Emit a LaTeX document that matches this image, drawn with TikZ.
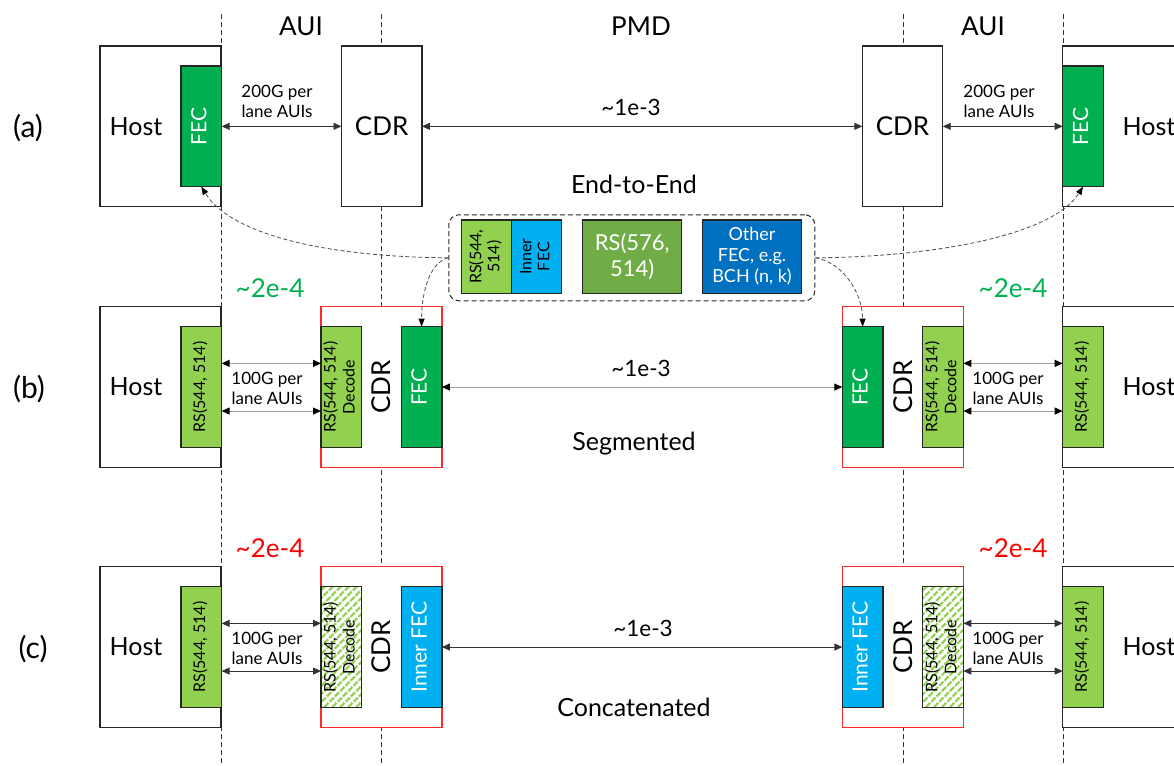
\documentclass[tikz,border=0pt]{standalone}
\usepackage{fontspec}
\setmainfont{Lato}
\usepackage{graphicx}
\usetikzlibrary{arrows.meta,calc}
\definecolor{fecg}{HTML}{00B050}
\definecolor{lgr}{HTML}{92D050}
\definecolor{cya}{HTML}{00B0F0}
\definecolor{mgr}{HTML}{70AD47}
\definecolor{blu}{HTML}{0070C0}
\definecolor{rdd}{HTML}{FF2A2A}
\newcommand\vtxt[1]{\rotatebox{90}{\begin{tabular}{@{}c@{}}#1\end{tabular}}}
\tikzset{
 blk/.style={draw=black!85, line width=1.2pt, inner sep=0pt, outer sep=0pt, anchor=north west},
 hostbox/.style={blk, fill=white, minimum width=121pt, minimum height=160.7pt},
 cdrbox/.style={blk, fill=white, minimum width=80.4pt, minimum height=160.7pt, font=\fontsize{26}{30}\selectfont},
 redbox/.style={draw=rdd, line width=1.2pt, fill=white, inner sep=0pt, outer sep=0pt, anchor=north west, minimum width=121pt, minimum height=160.7pt},
 narrow/.style={blk, minimum width=40.6pt, minimum height=120.7pt},
 fecbox/.style={narrow, fill=fecg, text=white, font=\fontsize{21}{25}\selectfont},
 innerbox/.style={narrow, fill=cya, text=white, font=\fontsize{21}{25}\selectfont},
 rsbox/.style={narrow, fill=lgr, font=\fontsize{16}{19}\selectfont},
 decbox/.style={narrow, font=\fontsize{16}{19}\selectfont},
 lgbox/.style={blk, minimum height=73.3pt},
 arr/.style={line width=0.9pt, draw=black!80, {Triangle[length=8pt,width=7pt]}-{Triangle[length=8pt,width=7pt]}},
 garr/.style={line width=1.1pt, draw=black!38, {Triangle[length=8pt,width=7pt,color=black]}-{Triangle[length=8pt,width=7pt,color=black]}},
 vdash/.style={draw=black!80, line width=0.8pt, dash pattern=on 5pt off 3pt},
 cdash/.style={draw=black!70, line width=0.8pt, dash pattern=on 4pt off 2.5pt, -{Triangle[length=8pt,width=6pt,color=black]}},
 hatch/.style={draw=lgr, line width=2.2pt, dash pattern=on 6pt off 1.5pt},
 lbl/.style={font=\fontsize{17}{20}\selectfont, align=center},
 big/.style={font=\fontsize{25}{29}\selectfont},
 cdrt/.style={font=\fontsize{26}{30}\selectfont},
 hdr/.style={font=\fontsize{26}{30}\selectfont},
 ber/.style={font=\fontsize{22.5}{26}\selectfont},
 ber2/.style={font=\fontsize{26}{30}\selectfont},
 title/.style={font=\fontsize{25}{29}\selectfont},
 rowlbl/.style={font=\fontsize{30}{34}\selectfont},
}
\begin{document}
\begin{tikzpicture}[x=1pt,y=-1pt]
\useasboundingbox (0,0) rectangle (1174,765);
\clip (0,0) rectangle (1174,765);
% dashed column separators
\foreach \n/\x in {va/221.3, vb/381.5, vc/903, vd/1063}{
  \coordinate (\n t) at (\x,14);
  \coordinate (\n b) at (\x,765);
  \draw[vdash] (\n t) -- (\n b);
}
% headers
\node[hdr] (h1) at (301,26) {AUI};
\node[hdr] (h2) at (641,26) {PMD};
\node[hdr] (h3) at (983,26) {AUI};
% row labels
\node[rowlbl] (ra) at (28,128) {(a)};
\node[rowlbl] (rb) at (29,389) {(b)};
\node[rowlbl] (rc) at (33,649) {(c)};

% ---------------- row (a)
\node[hostbox] (hostA1) at (100,46) {};
\node[big] (hostA1t) at (136,127) {Host};
\node[fecbox] (fecA1) at (181,66) {\vtxt{FEC}};
\node[cdrbox] (cdrA1) at (341.5,46) {CDR};
\node[cdrbox] (cdrA2) at (862.3,46) {CDR};
\node[hostbox] (hostA2) at (1062.7,46) {};
\node[big] (hostA2t) at (1149,127) {Host};
\node[fecbox] (fecA2) at (1062.7,66) {\vtxt{FEC}};
\draw[arr] (fecA1.east) -- (cdrA1.west);
\draw[arr] (cdrA1.east) -- (cdrA2.west);
\draw[arr] (cdrA2.east) -- (fecA2.west);
\node[lbl] (la1) at (277,101) {200G per\\lane AUIs};
\node[lbl] (la2) at (999,101) {200G per\\lane AUIs};
\node[ber] (bera) at (631,107) {\textasciitilde1e-3};
\node[title] (ta) at (634,184) {End-to-End};

% ---------------- row (b)
\node[hostbox] (hostB1) at (100,306.7) {};
\node[big] (hostB1t) at (136,387) {Host};
\node[rsbox] (rsB1) at (181,326.7) {\vtxt{RS(544, 514)}};
\node[redbox] (cdrB1) at (321,306.7) {};
\node[rsbox] (decB1) at (321,326.7) {\vtxt{RS(544, 514)\\Decode}};
\node[fecbox] (fecB1) at (401.3,326.7) {\vtxt{FEC}};
\node[cdrt] (cdrB1t) at (381.5,387) {\rotatebox{90}{CDR}};
\node[redbox] (cdrB2) at (842.3,306.7) {};
\node[fecbox] (fecB2) at (842.3,326.7) {\vtxt{FEC}};
\node[rsbox] (decB2) at (922.7,326.7) {\vtxt{RS(544, 514)\\Decode}};
\node[cdrt] (cdrB2t) at (903,387) {\rotatebox{90}{CDR}};
\node[hostbox] (hostB2) at (1062.7,306.7) {};
\node[big] (hostB2t) at (1149,387) {Host};
\node[rsbox] (rsB2) at (1062.7,326.7) {\vtxt{RS(544, 514)}};
\draw[garr] ([yshift=23.7pt]rsB1.east) -- ([yshift=23.7pt]decB1.west);
\draw[garr] ([yshift=-24pt]rsB1.east) -- ([yshift=-24pt]decB1.west);
\draw[garr] ([yshift=23.7pt]decB2.east) -- ([yshift=23.7pt]rsB2.west);
\draw[garr] ([yshift=-24pt]decB2.east) -- ([yshift=-24pt]rsB2.west);
\draw[garr] (fecB1.east) -- (fecB2.west);
\node[lbl] (lb1) at (267,388) {100G per\\lane AUIs};
\node[lbl] (lb2) at (1008,388) {100G per\\lane AUIs};
\node[ber] (berb) at (641,368) {\textasciitilde1e-3};
\node[title] (tb) at (634,444) {Segmented};
\node[ber2, text=fecg] (gb1) at (270,288) {\textasciitilde2e-4};
\node[ber2, text=fecg] (gb2) at (1013,288) {\textasciitilde2e-4};

% ---------------- row (c)
\node[hostbox] (hostC1) at (100,566.7) {};
\node[big] (hostC1t) at (136,647) {Host};
\node[rsbox] (rsC1) at (181,586.7) {\vtxt{RS(544, 514)}};
\node[redbox] (cdrC1) at (321,566.7) {};
\node[decbox, fill=white] (hC1) at (321,586.7) {};
\begin{scope}
 \clip (hC1.south west) rectangle (hC1.north east);
 \foreach \i in {-130,-122,...,50} \draw[hatch] ($(hC1.south west)+(\i,5)$) -- ++(140,-140);
\end{scope}
\node[decbox] (decC1) at (321,586.7) {\vtxt{RS(544, 514)\\Decode}};
\node[innerbox] (fecC1) at (401.3,586.7) {\vtxt{Inner FEC}};
\node[cdrt] (cdrC1t) at (381.5,647) {\rotatebox{90}{CDR}};
\node[redbox] (cdrC2) at (842.3,566.7) {};
\node[innerbox] (fecC2) at (842.3,586.7) {\vtxt{Inner FEC}};
\node[decbox, fill=white] (hC2) at (922.7,586.7) {};
\begin{scope}
 \clip (hC2.south west) rectangle (hC2.north east);
 \foreach \i in {-130,-122,...,50} \draw[hatch] ($(hC2.south west)+(\i,5)$) -- ++(140,-140);
\end{scope}
\node[decbox] (decC2) at (922.7,586.7) {\vtxt{RS(544, 514)\\Decode}};
\node[cdrt] (cdrC2t) at (903,647) {\rotatebox{90}{CDR}};
\node[hostbox] (hostC2) at (1062.7,566.7) {};
\node[big] (hostC2t) at (1149,647) {Host};
\node[rsbox] (rsC2) at (1062.7,586.7) {\vtxt{RS(544, 514)}};
\draw[arr] ([yshift=23.7pt]rsC1.east) -- ([yshift=23.7pt]decC1.west);
\draw[arr] ([yshift=-24pt]rsC1.east) -- ([yshift=-24pt]decC1.west);
\draw[arr] ([yshift=23.7pt]decC2.east) -- ([yshift=23.7pt]rsC2.west);
\draw[arr] ([yshift=-24pt]decC2.east) -- ([yshift=-24pt]rsC2.west);
\draw[arr] (fecC1.east) -- (fecC2.west);
\node[lbl] (lc1) at (267,648) {100G per\\lane AUIs};
\node[lbl] (lc2) at (1008,648) {100G per\\lane AUIs};
\node[ber] (berc) at (643,628) {\textasciitilde1e-3};
\node[title] (tc) at (634,707) {Concatenated};
\node[ber2, text=red] (rc1) at (270,548) {\textasciitilde2e-4};
\node[ber2, text=red] (rc2) at (1013,548) {\textasciitilde2e-4};

% ---------------- legend
\node[draw=black!85, line width=1pt, dash pattern=on 5pt off 3pt, rounded corners=10pt,
      minimum width=366pt, minimum height=86pt, anchor=north west, fill=white] (legend) at (448.3,214.3) {};
\node[lgbox, minimum width=50pt, fill=lgr, font=\fontsize{16}{18}\selectfont] (lg1) at (461.7,220) {\vtxt{RS(544,\\514)}};
\node[lgbox, minimum width=50pt, fill=cya, font=\fontsize{16}{18}\selectfont] (lg2) at (511.7,220) {\vtxt{Inner\\FEC}};
\node[lgbox, minimum width=99pt, fill=mgr, text=white, font=\fontsize{22}{26}\selectfont, align=center] (lg3) at (582.7,220) {RS(576,\\514)};
\node[lgbox, minimum width=99.4pt, fill=blu, text=white, font=\fontsize{18}{21}\selectfont, align=center] (lg4) at (702.3,220) {Other\\FEC, e.g.\\BCH (n, k)};

% curved dashed pointers
\draw[cdash] (legend.west) .. controls (330,257) and (232,236) .. (fecA1.south);
\draw[cdash] (legend.west) .. controls (430,262) and (421.5,292) .. (fecB1.north);
\draw[cdash] (legend.east) .. controls (932,257) and (1052,236) .. (fecA2.south);
\draw[cdash] (legend.east) .. controls (842,262) and (862.5,292) .. (fecB2.north);
\end{tikzpicture}
\end{document}
